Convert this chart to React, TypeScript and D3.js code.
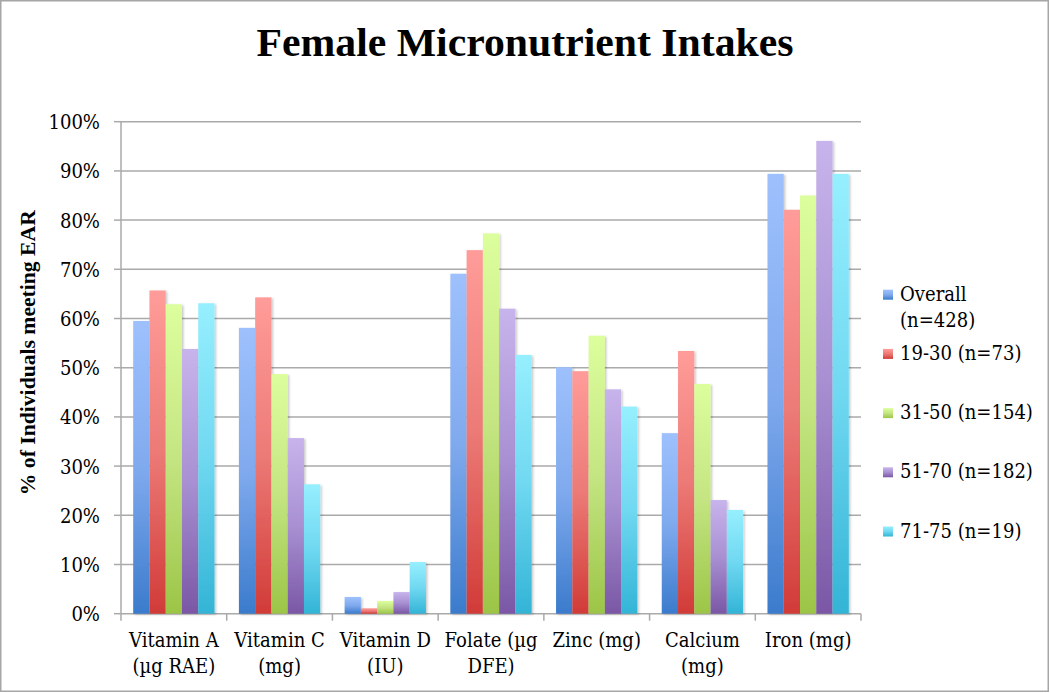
import React from "react";
import * as d3 from "d3";

// categories (two text lines each) and series
const categories = ["Vitamin A", "Vitamin C", "Vitamin D", "Folate", "Zinc", "Calcium", "Iron"];
const categoryLines = [
  ["Vitamin A", "(µg RAE)"],
  ["Vitamin C", "(mg)"],
  ["Vitamin D", "(IU)"],
  ["Folate (µg", "DFE)"],
  ["Zinc (mg)"],
  ["Calcium", "(mg)"],
  ["Iron (mg)"],
];
const seriesNames = ["Overall (n=428)", "19-30 (n=73)", "31-50 (n=154)", "51-70 (n=182)", "71-75 (n=19)"];
const legendLines = [["Overall", "(n=428)"], ["19-30 (n=73)"], ["31-50 (n=154)"], ["51-70 (n=182)"], ["71-75 (n=19)"]];

const overall = [59.5, 58.1, 3.4, 69.1, 50.1, 36.7, 89.4];
const age19to30 = [65.7, 64.3, 1.1, 73.9, 49.3, 53.4, 82.1];
const age31to50 = [62.9, 48.7, 2.6, 77.3, 56.5, 46.7, 85.0];
const age51to70 = [53.8, 35.7, 4.4, 62.0, 45.6, 23.1, 96.1];
const age71to75 = [63.1, 26.3, 10.5, 52.6, 42.1, 21.1, 89.4];
const seriesValues = [overall, age19to30, age31to50, age51to70, age71to75];

const yTicks = [0, 10, 20, 30, 40, 50, 60, 70, 80, 90, 100];

// light top, mid, dark bottom
const palette = [
  ["#9ec1fd", "#80aaee", "#3b7bcc"],
  ["#ff9c99", "#ec7a76", "#d13b38"],
  ["#ddfe9c", "#c4e582", "#9cc547"],
  ["#c8b4ec", "#a890d2", "#7a57a5"],
  ["#96effe", "#70d8f1", "#33b4d6"],
];

const W = 1050;
const H = 693;
const left = 121;
const right = 861;
const top = 121.7;
const bottom = 613.7;
const serif = "'DejaVu Serif', serif";
const fs = 20.5;
const sx = 0.88; // narrow the glyphs a bit, the original font is taller for its width

// multi-line text drawn narrower than the font
function SText({ x, y, lines, anchor = "start", lh = 26 }: { x: number; y: number; lines: string[]; anchor?: string; lh?: number }) {
  return (
    <text transform={`translate(${x},${y}) scale(${sx},1)`} textAnchor={anchor} fontFamily={serif} fontSize={fs} fill="#000">
      {lines.map((ln, i) => (
        <tspan key={i} x={0} y={i * lh}>
          {ln}
        </tspan>
      ))}
    </text>
  );
}

export default function App() {
  const x0 = d3.scaleBand<string>().domain(categories).range([left, right]).padding(0);
  const bw = x0.bandwidth();
  const edge = (bw * 0.75) / 6.5;
  const x1 = d3.scaleBand<string>().domain(seriesNames).range([edge, bw - edge]).padding(0);
  const y = d3.scaleLinear().domain([0, 100]).range([bottom, top]);

  const legendBase = 300.7;
  const legendStep = 59.2;

  return (
    <div style={{ position: "absolute", left: 0, top: 0 }}>
      <svg width={W} height={H} style={{ display: "block", background: "#fff" }}>
        <defs>
          {palette.map((c, i) => (
            <linearGradient key={i} id={`grad${i}`} x1="0" y1="0" x2="0" y2="1">
              <stop offset="0" stopColor={c[0]} />
              <stop offset="0.5" stopColor={c[1]} />
              <stop offset="1" stopColor={c[2]} />
            </linearGradient>
          ))}
          <filter id="shadow" x="-20%" y="-5%" width="150%" height="115%">
            <feDropShadow dx="1.5" dy="1" stdDeviation="1.2" floodColor="#000" floodOpacity="0.22" />
          </filter>
        </defs>

        <rect x={0.75} y={0.75} width={W - 2.5} height={H - 2.5} fill="#fff" stroke="#a6a6a6" strokeWidth={1.5} />

        <text
          x={525}
          y={56}
          textAnchor="middle"
          fontFamily="'Liberation Serif', serif"
          fontWeight="bold"
          fontSize={41}
          textLength={537}
          lengthAdjust="spacingAndGlyphs"
        >
          Female Micronutrient Intakes
        </text>

        {/* gridlines and y ticks */}
        {yTicks.map((t) => (
          <g key={t}>
            <line x1={left} x2={right} y1={y(t)} y2={y(t)} stroke="#aaaaaa" strokeWidth={1.5} />
            <line x1={114} x2={left} y1={y(t)} y2={y(t)} stroke="#aaaaaa" strokeWidth={1.5} />
            <SText x={100} y={y(t) + 7.5} lines={[`${t}%`]} anchor="end" />
          </g>
        ))}
        <line x1={left} x2={left} y1={top} y2={bottom + 7} stroke="#aaaaaa" strokeWidth={1.5} />
        {categories.map((c) => (
          <line key={c} x1={(x0(c) as number) + bw} x2={(x0(c) as number) + bw} y1={bottom} y2={bottom + 7} stroke="#aaaaaa" strokeWidth={1.5} />
        ))}

        {/* bars */}
        {seriesNames.map((s, si) => (
          <g key={s} filter="url(#shadow)">
            {categories.map((c, ci) => {
              const v = seriesValues[si][ci];
              return (
                <rect
                  key={c}
                  x={(x0(c) as number) + (x1(s) as number)}
                  y={y(v)}
                  width={x1.bandwidth()}
                  height={bottom - y(v)}
                  fill={`url(#grad${si})`}
                />
              );
            })}
          </g>
        ))}

        {/* x labels */}
        {categories.map((c, ci) => (
          <SText key={c} x={(x0(c) as number) + bw / 2} y={647} lines={categoryLines[ci]} anchor="middle" lh={26} />
        ))}

        <text
          transform={`translate(35,${(top + bottom) / 2 - 15}) rotate(-90)`}
          textAnchor="middle"
          fontFamily="'Liberation Serif', serif"
          fontWeight="bold"
          fontSize={21}
          textLength={285}
          lengthAdjust="spacingAndGlyphs"
        >
          % of Individuals meeting EAR
        </text>

        {/* legend */}
        {seriesNames.map((s, si) => {
          const b = legendBase + si * legendStep;
          return (
            <g key={s}>
              <rect x={883} y={b - 11} width={10} height={10} fill={`url(#grad${si})`} />
              <SText x={900} y={b} lines={legendLines[si]} lh={26} />
            </g>
          );
        })}
      </svg>
    </div>
  );
}
